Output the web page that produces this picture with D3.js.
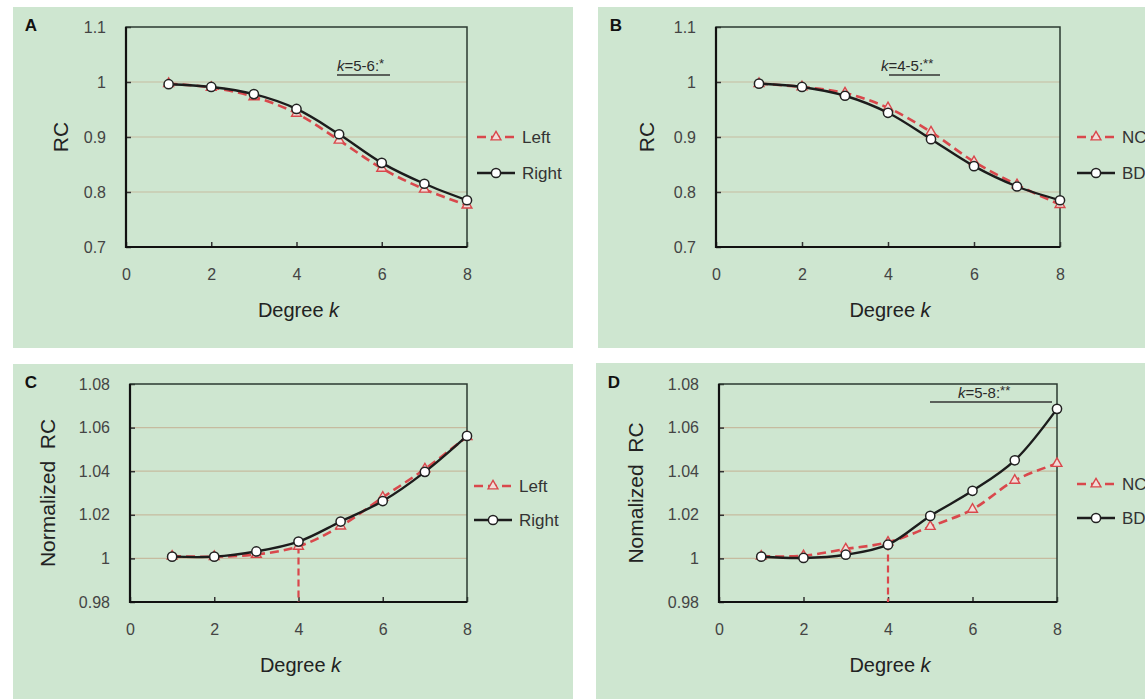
<!DOCTYPE html>
<html>
<head>
<meta charset="utf-8">
<script src="https://cdn.jsdelivr.net/npm/d3@7"></script>
<style>
  body { margin: 0; background: #fff; }
  svg { display: block; font-family: "Liberation Sans", Arial, sans-serif; }
</style>
</head>
<body>
<div id="chart-area"></div>
<script>
// data
var degreeK = [1, 2, 3, 4, 5, 6, 7, 8];

var rcLeft  = [0.997, 0.990, 0.973, 0.943, 0.894, 0.843, 0.805, 0.776];
var rcRight = [0.996, 0.991, 0.978, 0.951, 0.905, 0.853, 0.815, 0.785];
var rcNC    = [0.997, 0.991, 0.980, 0.953, 0.909, 0.855, 0.813, 0.777];
var rcBD    = [0.997, 0.991, 0.975, 0.944, 0.896, 0.847, 0.810, 0.785];

var nrcLeft  = [1.0010, 1.0008, 1.0018, 1.0055, 1.0148, 1.0280, 1.0410, 1.0558];
var nrcRight = [1.0008, 1.0008, 1.0032, 1.0077, 1.0169, 1.0263, 1.0397, 1.0562];
var nrcNC    = [1.0010, 1.0012, 1.0043, 1.0074, 1.0146, 1.0225, 1.0358, 1.0435];
var nrcBD    = [1.0008, 1.0002, 1.0017, 1.0063, 1.0195, 1.0310, 1.0450, 1.0686];

var xTicks = [0, 2, 4, 6, 8];
var rcTicks = [0.7, 0.8, 0.9, 1, 1.1];
var nrcTicks = [0.98, 1, 1.02, 1.04, 1.06, 1.08];

var panelLetters = ["A", "B", "C", "D"];
var yTitles = ["RC", "RC", "Normalized\u00a0 RC", "Nomalized\u00a0 RC"];
var seriesNames = [["Left", "Right"], ["NC", "BD"], ["Left", "Right"], ["NC", "BD"]];
var annotations = ["5-6", "4-5", null, "5-8"];
var annotationStars = ["*", "**", null, "**"];
var cutoffK = [null, null, 4, 4];
var cutoffTop = [null, null, 1.0055, 1.0068];

var red = "#d9484c", black = "#1c1c1c";

var svg = d3.select("#chart-area")
	.append("svg")
		.attr("width", 1145)
		.attr("height", 699);

// panel boxes and plot areas
var layout = [
	{bg:[13, 7, 560, 341],  l:126, r:467,  t:27,  b:247, ly:[137, 173], lx:477,  yt:61,  ann:"under"},
	{bg:[598, 7, 560, 341], l:716, r:1060, t:27,  b:247, ly:[137, 173], lx:1077, yt:647, ann:"under"},
	{bg:[13, 364, 560, 335], l:130, r:467, t:384, b:602, ly:[486, 520], lx:474,  yt:48,  ann:null},
	{bg:[596, 363, 560, 336], l:719, r:1057, t:384, b:602, ly:[484, 518], lx:1077, yt:636, ann:"over"}
];

var panelData = [
	[rcLeft, rcRight, rcTicks],
	[rcNC, rcBD, rcTicks],
	[nrcLeft, nrcRight, nrcTicks],
	[nrcNC, nrcBD, nrcTicks]
];

function fmt(d){ return String(+d.toFixed(2)); }

layout.forEach(function(p, i){
	var redVals = panelData[i][0],
		blackVals = panelData[i][1],
		yTicks = panelData[i][2];

	svg.append("rect")
		.attr("x", p.bg[0]).attr("y", p.bg[1])
		.attr("width", p.bg[2]).attr("height", p.bg[3])
		.attr("fill", "#cee6d0");

	var x = d3.scaleLinear().domain([0, 8]).range([p.l, p.r]);
	var y = d3.scaleLinear().domain([yTicks[0], yTicks[yTicks.length-1]]).range([p.b, p.t]);

	var g = svg.append("g");

	//gridlines
	g.selectAll(".grid")
		.data(yTicks.slice(1, -1))
		.enter().append("line")
			.attr("x1", p.l).attr("x2", p.r)
			.attr("y1", function(d){ return y(d); })
			.attr("y2", function(d){ return y(d); })
			.attr("stroke", "#c6bb9f")
			.attr("stroke-width", 1.2);

	//axes
	var yAxis = g.append("g")
		.attr("transform", "translate(" + p.l + ",0)")
		.call(d3.axisLeft(y).tickValues(yTicks).tickFormat(fmt).tickSize(-5).tickPadding(20));
	var xAxis = g.append("g")
		.attr("transform", "translate(0," + p.b + ")")
		.call(d3.axisBottom(x).tickValues(xTicks).tickFormat(d3.format("d")).tickSize(-5).tickPadding(22));
	[xAxis, yAxis].forEach(function(a){
		a.select(".domain").remove();
		a.selectAll("line").attr("stroke", "#333").attr("stroke-width", 1.5);
		a.selectAll("text").attr("font-size", "16px").attr("fill", "#444")
			.attr("font-family", "'Liberation Sans', Arial, sans-serif");
	});

	//frame
	g.append("rect")
		.attr("x", p.l).attr("y", p.t)
		.attr("width", p.r - p.l).attr("height", p.b - p.t)
		.attr("fill", "none")
		.attr("stroke", "#2b3a30")
		.attr("stroke-width", 1.5);
	g.append("path")
		.attr("d", "M" + p.l + "," + p.t + "V" + p.b + "H" + p.r)
		.attr("fill", "none")
		.attr("stroke", "#111")
		.attr("stroke-width", 2.2);

	//cut-off dashed line
	if (cutoffK[i] !== null) {
		g.append("line")
			.attr("x1", x(cutoffK[i])).attr("x2", x(cutoffK[i]))
			.attr("y1", y(cutoffTop[i])).attr("y2", p.b)
			.attr("stroke", red)
			.attr("stroke-width", 2.2)
			.attr("stroke-dasharray", "7,4");
	}

	var line = d3.line()
		.x(function(d, j){ return x(degreeK[j]); })
		.y(function(d){ return y(d); })
		.curve(d3.curveCatmullRom.alpha(0.5));

	var tri = d3.symbol().type(d3.symbolTriangle).size(42);

	g.append("path")
		.attr("d", line(redVals))
		.attr("fill", "none")
		.attr("stroke", red)
		.attr("stroke-width", 2.6)
		.attr("stroke-dasharray", "9,5");
	g.selectAll(".tri")
		.data(redVals)
		.enter().append("path")
			.attr("d", tri)
			.attr("transform", function(d, j){ return "translate(" + x(degreeK[j]) + "," + y(d) + ")"; })
			.attr("fill", "#f2ddd8")
			.attr("stroke", red)
			.attr("stroke-width", 1.4);

	g.append("path")
		.attr("d", line(blackVals))
		.attr("fill", "none")
		.attr("stroke", black)
		.attr("stroke-width", 2.4);
	g.selectAll(".dot")
		.data(blackVals)
		.enter().append("circle")
			.attr("cx", function(d, j){ return x(degreeK[j]); })
			.attr("cy", function(d){ return y(d); })
			.attr("r", 4.6)
			.attr("fill", "#fff")
			.attr("stroke", "#222")
			.attr("stroke-width", 1.5);

	//significance note
	if (annotations[i] !== null) {
		var ax, base, ulx1, ulx2, uly;
		if (p.ann === "under") {
			ax = i === 0 ? 337 : 881;
			base = 71;
			ulx1 = i === 0 ? 337 : 889;
			ulx2 = i === 0 ? 390 : 940;
			uly = 75;
		} else {
			ax = 958; base = 398; ulx1 = 930; ulx2 = 1052; uly = 402;
		}
		var note = g.append("text")
			.attr("x", ax).attr("y", base)
			.attr("font-size", "15px")
			.attr("fill", "#2a2a2a");
		note.append("tspan").attr("font-style", "italic").text("k");
		note.append("tspan").text("=" + annotations[i] + ":");
		note.append("tspan").attr("dy", -3).attr("font-size", "13px").text(annotationStars[i]);
		g.append("line")
			.attr("x1", ulx1).attr("x2", ulx2)
			.attr("y1", uly).attr("y2", uly)
			.attr("stroke", "#333")
			.attr("stroke-width", 1.3);
	}

	//titles
	var xt = g.append("text")
		.attr("x", (p.l + p.r) / 2 + 2)
		.attr("y", p.b + 70)
		.attr("text-anchor", "middle")
		.attr("font-size", "20px")
		.attr("fill", "#222");
	xt.append("tspan").text("Degree ");
	xt.append("tspan").attr("font-style", "italic").text("k");

	g.append("text")
		.attr("transform", "translate(" + (p.yt + 7) + "," + ((p.t + p.b) / 2) + ") rotate(-90)")
		.attr("text-anchor", "middle")
		.attr("font-size", "21px")
		.attr("fill", "#222")
		.text(yTitles[i]);

	g.append("text")
		.attr("x", p.bg[0] + 18)
		.attr("y", p.t + 4)
		.attr("text-anchor", "middle")
		.attr("font-size", "17px")
		.attr("font-weight", "bold")
		.attr("fill", "#111")
		.text(panelLetters[i]);

	//legend
	seriesNames[i].forEach(function(name, k){
		var row = g.append("g").attr("transform", "translate(" + p.lx + "," + p.ly[k] + ")");
		row.append("line")
			.attr("x1", 0).attr("x2", 38)
			.attr("stroke", k === 0 ? red : black)
			.attr("stroke-width", 2.6)
			.attr("stroke-dasharray", k === 0 ? "9,5" : null);
		if (k === 0) {
			row.append("path").attr("d", tri).attr("transform", "translate(19,0)")
				.attr("fill", "#f2ddd8").attr("stroke", red).attr("stroke-width", 1.4);
		} else {
			row.append("circle").attr("cx", 19).attr("r", 4.6)
				.attr("fill", "#fff").attr("stroke", "#222").attr("stroke-width", 1.5);
		}
		row.append("text")
			.attr("x", 45)
			.attr("y", 6)
			.attr("font-size", "17px")
			.attr("fill", "#333")
			.text(name);
	});
});
</script>
</body>
</html>
